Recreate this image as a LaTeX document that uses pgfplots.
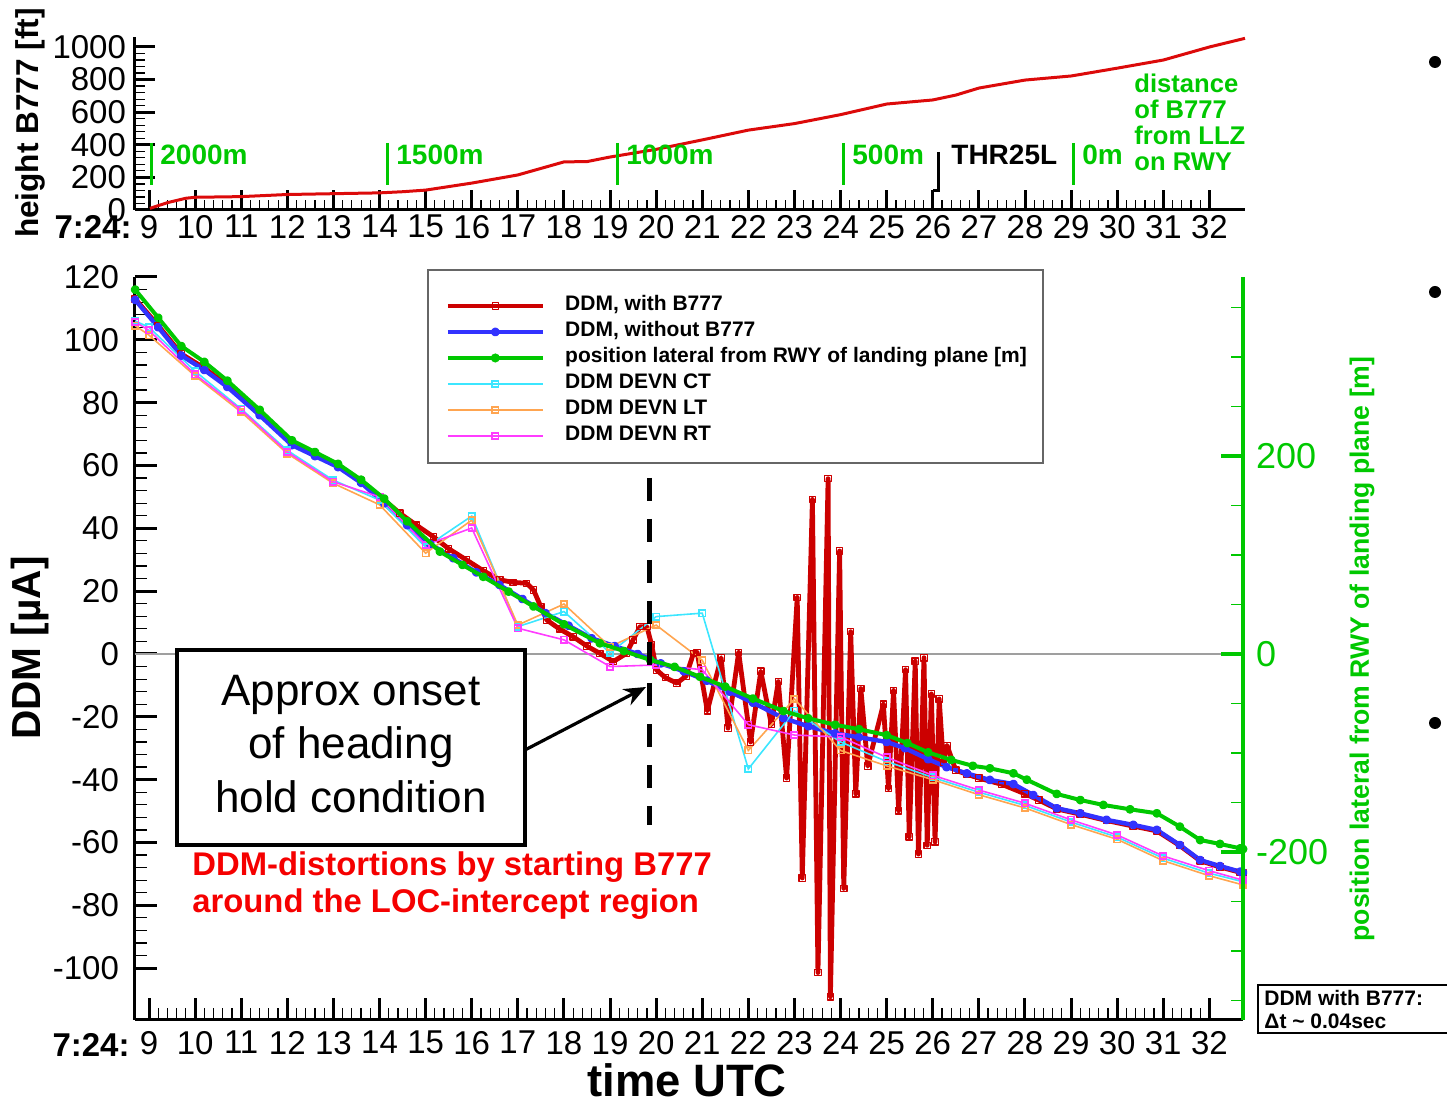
\documentclass[border=0pt]{standalone}
\usepackage{fontspec}
\setmainfont{Liberation Sans}
\usepackage{pgfplots}
\pgfplotsset{compat=1.18}
\usetikzlibrary{arrows.meta}
\definecolor{cRed}{RGB}{204,0,0}
\definecolor{cTopRed}{RGB}{220,10,10}
\definecolor{cBlue}{RGB}{50,50,255}
\definecolor{cGreen}{RGB}{0,200,0}
\definecolor{cCyan}{RGB}{60,230,255}
\definecolor{cOrange}{RGB}{255,165,80}
\definecolor{cPink}{RGB}{255,60,255}
\definecolor{cTxtRed}{RGB}{245,0,0}
\begin{document}
\begin{tikzpicture}
\path[use as bounding box] (0pt,0pt) rectangle (723.5pt,551.5pt);

% ---------------- top axis: height ----------------
\begin{axis}[
  at={(67.5pt,446.5pt)}, anchor=south west,
  width=555pt, height=86.4pt, scale only axis,
  xmin=8.696, xmax=32.77, ymin=0, ymax=1060,
  axis x line*=bottom, axis y line*=left,
  axis line style={line width=1.5pt,-},
  tick align=inside,
  xtick={9,...,32}, minor x tick num=4,
  ytick={0,200,...,1000}, minor y tick num=4,
  major tick length=10pt, minor tick length=5pt,
  major tick style={line width=1.5pt,black},
  minor tick style={line width=0.6pt,black},
  tick label style={font=\fontsize{16.5}{16.5}\selectfont},
  xticklabel style={yshift=1pt},
  yticklabel style={xshift=-1pt},
  /pgf/number format/assume math mode=true,
  /pgf/number format/1000 sep={},
  clip=false,
]
\addplot[cTopRed, line width=1.5pt, line join=round] coordinates {
(9.02,10) (9.4,45) (9.8,72) (10,78) (11,82) (12,95) (13,100) (14,105) (14.5,112) (15,122)
(16,165) (17,215) (18,295) (18.5,297) (19,325) (20,372) (21,430) (22,490) (23,530) (24,585)
(25,650) (26,675) (26.5,705) (27,748) (28,797) (29,822) (30,870) (31,920) (32,1000) (32.77,1053)
};
\end{axis}

% ---------------- main axis: DDM ----------------
\begin{axis}[
  at={(67.5pt,41.5pt)}, anchor=south west,
  width=554pt, height=371.5pt, scale only axis,
  xmin=8.696, xmax=32.73, ymin=-116.5, ymax=120,
  axis x line*=bottom, axis y line*=left,
  axis line style={line width=1.5pt,-},
  tick align=inside,
  xtick={9,...,32}, minor x tick num=4,
  ytick={-100,-80,...,120}, minor y tick num=4,
  major tick length=11pt, minor tick length=6pt,
  major tick style={line width=1.5pt,black},
  minor tick style={line width=0.6pt,black},
  tick label style={font=\fontsize{16.5}{16.5}\selectfont},
  xticklabel style={yshift=-2pt},
  yticklabel style={xshift=-4.5pt},
  /pgf/number format/assume math mode=true,
  legend cell align=left,
  legend style={at={(0.2798,0.8735)}, anchor=west, draw=none, fill=none,
    inner sep=0pt, column sep=10pt, row sep=0pt,
    nodes={inner sep=0pt, text height=8.8pt, text depth=4.2pt,
      font=\fontsize{10.5}{12}\selectfont\bfseries}},
  legend image code/.code={\draw[mark repeat=2,mark phase=2,#1] plot coordinates {(0pt,0pt) (23.75pt,0pt) (47.5pt,0pt)};},
]
\draw[gray!75, line width=0.7pt] (axis cs:8.696,0) -- (axis cs:32.73,0);

\addplot[cRed, line width=2.4pt, line join=round, mark=square, mark size=1.6pt, mark options={solid,line width=0.6pt}] coordinates {
(8.70,113) (9.2,104.5) (9.7,95.5) (10.2,91) (10.7,85.5) (11.4,76.5) (12.1,67) (12.6,63.5) (13.1,60) (13.6,55)
(14.1,49) (14.44,44.8) (14.8,41) (15.17,37.3) (15.5,33.5) (15.89,29.9) (16.25,26.5) (16.61,23.6) (16.9,22.8) (17.19,22.5)
(17.34,20.4) (17.5,15) (17.63,10.8) (17.9,8) (18.2,5.5) (18.5,2.5) (18.78,0.2) (19.07,-2.4) (19.36,0.2) (19.5,4.5)
(19.65,8.7) (19.8,8.7) (19.9,3) (20.01,-5.1) (20.2,-7.5) (20.45,-9.3) (20.65,-7) (20.81,0.2) (20.89,0.5) (21.11,-18.1)
(21.41,-1.2) (21.56,-23.6) (21.79,0.5) (22.05,-28) (22.27,-5.5) (22.5,-22.5) (22.65,-8.8) (22.83,-39.5) (23.06,18) (23.17,-71.3)
(23.39,49.2) (23.51,-101.4) (23.73,55.8) (23.78,-109.1) (23.98,32.8) (24.07,-74.6) (24.22,7.1) (24.33,-44.5) (24.44,-11) (24.59,-35.7)
(24.93,-16) (25.04,-42.8) (25.15,-11.6) (25.26,-49.9) (25.41,-5) (25.49,-58.2) (25.62,-2.3) (25.69,-63.7) (25.81,-1.2) (25.88,-60.9)
(25.97,-12.7) (26.05,-59.8) (26.14,-14.3) (26.23,-34.6) (26.31,-29.1) (26.5,-37) (26.74,-38.3) (27.0,-39.5) (27.5,-41.5) (28.0,-44.5)
(28.3,-46.5) (28.69,-49.3) (29.2,-51) (29.77,-53) (30.35,-54.8) (30.86,-56.3) (31.36,-61) (31.8,-65.8) (32.23,-67.8) (32.67,-69.5) (32.73,-69.8)
};
\addlegendentry{DDM, with B777}

\addplot[cBlue, line width=2.2pt, line join=round, mark=*, mark size=1.1pt] coordinates {
(8.70,112.7) (9.2,104) (9.7,95) (10.2,90.4) (10.7,85) (11.4,76) (12.1,66.5) (12.6,63) (13.1,59.5) (13.6,54.5)
(14.1,48) (14.6,41) (15.1,35) (15.6,30.5) (16.1,26) (16.6,22) (17.1,17.5) (17.6,13) (18.1,9) (18.6,5)
(19.1,2.5) (19.6,0) (20.1,-3) (20.6,-5.5) (21.1,-8.5) (21.6,-12) (22.1,-15.5) (22.76,-20.4) (23.3,-23) (23.88,-25.3)
(24.4,-26.5) (25.0,-28) (25.4,-30) (25.9,-33.5) (26.3,-36) (26.74,-38) (27.24,-40.1) (27.75,-41.4) (28.18,-44.9) (28.69,-49.1)
(29.2,-50.7) (29.77,-52.8) (30.35,-54.4) (30.86,-56) (31.36,-60.8) (31.8,-65.6) (32.23,-67.5) (32.67,-69.3) (32.73,-69.6)
};
\addlegendentry{DDM, without B777}

\addlegendimage{cGreen, line width=2pt, mark=*, mark size=1.2pt}
\addlegendentry{position lateral from RWY of landing plane [m]}

\addplot[cCyan, line width=0.8pt, mark=square, mark size=1.6pt] coordinates {
(8.70,106) (9,104) (10,90) (11,78) (12,64.8) (13,55.3) (14,49) (15,34) (16,43.9) (17,8.7) (18,13.5) (19,0.4) (20,11.9)
(21,13) (22,-36.6) (23,-18.1) (24,-28) (25,-34.2) (26,-39.3) (27,-44) (28,-48.2) (29,-53.5) (30,-58.3) (31,-65) (32,-69.8) (32.73,-72.5)
};
\addlegendentry{DDM DEVN CT}

\addplot[cOrange, line width=0.8pt, mark=square, mark size=1.6pt] coordinates {
(8.70,104.5) (9,101.5) (10,88.5) (11,77) (12,63.8) (13,54.3) (14,47.5) (15,32.1) (16,42.6) (17,9.2) (18,15.9) (19,2.3) (20,9.2)
(21,-2) (22,-30.7) (23,-14.3) (24,-30.7) (25,-35.6) (26,-40) (27,-44.8) (28,-49) (29,-54.3) (30,-59) (31,-65.8) (32,-70.6) (32.73,-73.5)
};
\addlegendentry{DDM DEVN LT}

\addplot[cPink, line width=0.8pt, mark=square, mark size=1.6pt] coordinates {
(8.70,105.7) (9,103) (10,89) (11,77.7) (12,64.3) (13,54.8) (14,50) (15,34.7) (16,40.1) (17,8.2) (18,4.5) (19,-4) (20,-3.5)
(21,-5) (22,-22.5) (23,-25.8) (24,-26.4) (25,-32.9) (26,-38.6) (27,-43.3) (28,-47.5) (29,-52.8) (30,-57.6) (31,-64.3) (32,-69) (32.73,-72)
};
\addlegendentry{DDM DEVN RT}
\end{axis}

% ---------------- right axis: lateral position ----------------
\begin{axis}[
  at={(67.5pt,41.5pt)}, anchor=south west,
  width=554pt, height=371.5pt, scale only axis,
  xmin=8.696, xmax=32.73, ymin=-369.7, ymax=380.8,
  axis x line=none, axis y line*=right,
  axis line style={line width=2pt,cGreen,-},
  tick align=inside,
  ytick={-200,0,200}, minor ytick={-350,-300,...,350},
  major tick length=11pt, minor tick length=6pt,
  major tick style={line width=2pt,cGreen},
  minor tick style={line width=0.8pt,cGreen},
  yticklabel style={font=\fontsize{18}{18}\selectfont, text=cGreen, xshift=3pt},
  /pgf/number format/assume math mode=true,
]
\addplot[cGreen, line width=2pt, line join=round, mark=*, mark size=1.2pt] coordinates {
(8.70,368) (9.2,339.6) (9.7,311) (10.2,295) (10.7,276) (11.4,246.6) (12.1,215.8) (12.6,204) (13.1,192) (13.6,176)
(14.1,157) (14.6,134) (15.31,103.4) (15.8,90) (16.25,78) (16.8,63) (17.34,48) (18.0,30) (18.78,10.8) (19.3,3)
(19.87,-6) (20.4,-13) (20.95,-23) (21.5,-33) (22.1,-45) (22.76,-57.6) (23.3,-65) (23.88,-71.5) (24.4,-76) (25.0,-82)
(25.45,-90) (25.9,-99.4) (26.4,-107) (26.87,-113) (27.24,-115.5) (27.75,-120.5) (28.04,-127) (28.69,-141.4) (29.2,-147.5) (29.7,-152.5)
(30.28,-156.9) (30.86,-160.9) (31.36,-174.4) (31.8,-187.9) (32.23,-191.9) (32.67,-196.3) (32.73,-197)
};
\end{axis}

% ---------------- annotations (pixel coordinates) ----------------
\begin{scope}[x=0.5pt,y=-0.5pt,shift={(0pt,551.5pt)}]
  % axis labels
  \node[rotate=90, font=\fontsize{20.3}{20.3}\selectfont\bfseries] at (30,648) {DDM [µA]};
  \node[rotate=90, font=\fontsize{15.8}{15.8}\selectfont\bfseries] at (30,123) {height B777 [ft]};
  \node[inner sep=0pt, font=\fontsize{22.7}{22.7}\selectfont\bfseries] at (687,1080) {time UTC};
  \node[rotate=90, text=cGreen, font=\fontsize{13.3}{13.3}\selectfont\bfseries] at (1362,649) {position lateral from RWY of landing plane [m]};
  \node[anchor=east, inner sep=0pt, font=\fontsize{16.5}{16.5}\selectfont\bfseries] at (130,1045) {7:24:};
  \node[anchor=east, inner sep=0pt, font=\fontsize{16.5}{16.5}\selectfont\bfseries] at (132,227) {7:24:};
  % distance markers (top plot)
  \foreach \xx/\lab in {151/2000m,387/1500m,617/1000m,843/500m,1073/0m}{
    \draw[cGreen, line width=1.5pt] (\xx,143) -- (\xx,185);
    \node[anchor=west, inner sep=0pt, text=cGreen, font=\fontsize{14}{14}\selectfont\bfseries] at (\xx+9,155) {\lab};
  }
  \draw[black, line width=1.5pt] (938,152) -- (938,191) -- (933,191);
  \node[anchor=west, inner sep=0pt, font=\fontsize{14}{14}\selectfont\bfseries] at (951,155) {THR25L};
  \node[anchor=north west, inner sep=0pt, align=left, text=cGreen, font=\fontsize{12.8}{13}\selectfont\bfseries] at (1134,74) {distance\\of B777\\from LLZ\\on RWY};
  % legend frame
  \draw[gray!80!black, line width=0.8pt] (428,270) rectangle (1043,463);
  % heading hold marker
  \draw[black, line width=2.5pt, dash pattern=on 11.5pt off 9pt] (649,478) -- (649,825);
  \draw[black, line width=1.6pt, fill=white] (177,650) rectangle (525,845);
  \node[align=center, font=\fontsize{22}{26.7}\selectfont] at (351,744) {Approx onset\\of heading\\hold condition};
  \draw[black, line width=1.6pt, -{Stealth[length=11pt,width=9pt]}] (525,750) -- (646,687);
  % red comment
  \node[anchor=west, inner sep=0pt, text=cTxtRed, font=\fontsize{16.4}{16.4}\selectfont\bfseries] at (192,867) {DDM-distortions by starting B777};
  \node[anchor=west, inner sep=0pt, text=cTxtRed, font=\fontsize{16.4}{16.4}\selectfont\bfseries] at (192,904) {around the LOC-intercept region};
  % sampling box
  \draw[black, line width=0.8pt] (1258,985) rectangle (1480,1033);
  \node[anchor=west, inner sep=0pt, font=\fontsize{10.5}{10.5}\selectfont\bfseries] at (1264,998) {DDM with B777:};
  \node[anchor=west, inner sep=0pt, font=\fontsize{10.5}{10.5}\selectfont\bfseries] at (1264,1021) {Δt \textasciitilde{} 0.04sec};
  % slide bullets
  \fill (1435,62) circle (3pt);
  \fill (1435,292) circle (3pt);
  \fill (1435,723) circle (3pt);
\end{scope}
\end{tikzpicture}
\end{document}
